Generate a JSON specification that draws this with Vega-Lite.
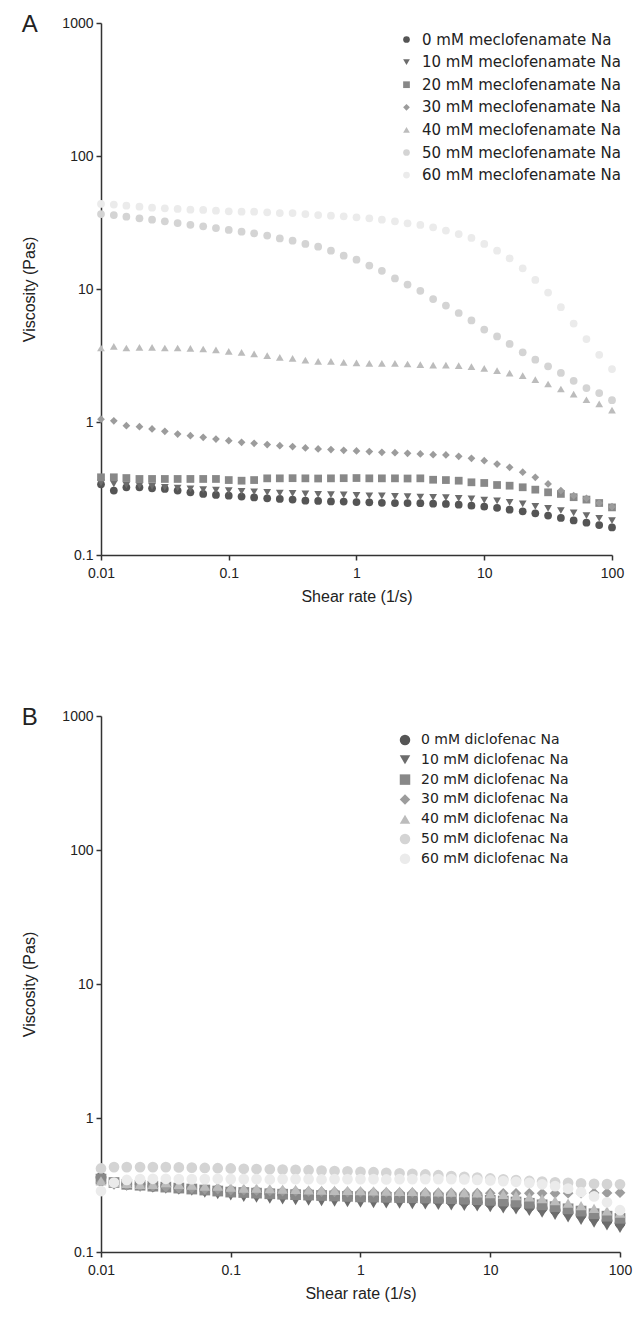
{
"$schema":"https://vega.github.io/schema/vega-lite/v6.json",
"background":"white",
"padding":{"left":21,"top":13,"right":5,"bottom":5},
"config":{"font":"Liberation Sans","view":{"stroke":null},
"axis":{"domainColor":"#333","domainWidth":1.5,"tickColor":"#333","tickWidth":1.5,"tickSize":5,"labelFontSize":14,"labelColor":"#222","titleFontSize":16,"titleFontWeight":"normal","titleColor":"#222","grid":false,"labelFlush":false,"labelFont":"Liberation Sans","titleFont":"Liberation Sans"},
"axisY":{"titlePadding":24,"labelPadding":3},
"axisX":{"titlePadding":8,"labelPadding":6},
"legend":{"labelLimit":0,"labelFont":"DejaVu Sans","labelFontSize":15,"labelColor":"#222","padding":0,"title":null}},
"spacing":102,
"resolve":{"scale":{"color":"independent","shape":"independent"},"legend":{"color":"independent","shape":"independent"}},
"datasets":{
"A":[
{"c":0,"x":0.01,"y":0.34},{"c":0,"x":0.0126,"y":0.305},{"c":0,"x":0.0158,"y":0.323},{"c":0,"x":0.02,"y":0.323},{"c":0,"x":0.0251,"y":0.317},{"c":0,"x":0.0316,"y":0.314},{"c":0,"x":0.0398,"y":0.305},{"c":0,"x":0.0501,"y":0.296},{"c":0,"x":0.0631,"y":0.288},{"c":0,"x":0.0794,"y":0.283},{"c":0,"x":0.1,"y":0.279},{"c":0,"x":0.126,"y":0.275},{"c":0,"x":0.158,"y":0.271},{"c":0,"x":0.2,"y":0.267},{"c":0,"x":0.251,"y":0.264},{"c":0,"x":0.316,"y":0.261},{"c":0,"x":0.398,"y":0.256},{"c":0,"x":0.501,"y":0.255},{"c":0,"x":0.631,"y":0.253},{"c":0,"x":0.794,"y":0.252},{"c":0,"x":1,"y":0.25},{"c":0,"x":1.26,"y":0.249},{"c":0,"x":1.58,"y":0.247},{"c":0,"x":2,"y":0.246},{"c":0,"x":2.51,"y":0.246},{"c":0,"x":3.16,"y":0.245},{"c":0,"x":3.98,"y":0.243},{"c":0,"x":5.01,"y":0.242},{"c":0,"x":6.31,"y":0.239},{"c":0,"x":7.94,"y":0.235},{"c":0,"x":10,"y":0.231},{"c":0,"x":12.6,"y":0.226},{"c":0,"x":15.8,"y":0.219},{"c":0,"x":20,"y":0.213},{"c":0,"x":25.1,"y":0.206},{"c":0,"x":31.6,"y":0.198},{"c":0,"x":39.8,"y":0.19},{"c":0,"x":50.1,"y":0.182},{"c":0,"x":63.1,"y":0.175},{"c":0,"x":79.4,"y":0.168},{"c":0,"x":100,"y":0.161},
{"c":10,"x":0.01,"y":0.348},{"c":10,"x":0.0126,"y":0.342},{"c":10,"x":0.0158,"y":0.336},{"c":10,"x":0.02,"y":0.332},{"c":10,"x":0.0251,"y":0.328},{"c":10,"x":0.0316,"y":0.323},{"c":10,"x":0.0398,"y":0.319},{"c":10,"x":0.0501,"y":0.314},{"c":10,"x":0.0631,"y":0.31},{"c":10,"x":0.0794,"y":0.308},{"c":10,"x":0.1,"y":0.305},{"c":10,"x":0.126,"y":0.301},{"c":10,"x":0.158,"y":0.299},{"c":10,"x":0.2,"y":0.296},{"c":10,"x":0.251,"y":0.292},{"c":10,"x":0.316,"y":0.291},{"c":10,"x":0.398,"y":0.288},{"c":10,"x":0.501,"y":0.286},{"c":10,"x":0.631,"y":0.284},{"c":10,"x":0.794,"y":0.283},{"c":10,"x":1,"y":0.281},{"c":10,"x":1.26,"y":0.279},{"c":10,"x":1.58,"y":0.278},{"c":10,"x":2,"y":0.276},{"c":10,"x":2.51,"y":0.275},{"c":10,"x":3.16,"y":0.273},{"c":10,"x":3.98,"y":0.271},{"c":10,"x":5.01,"y":0.27},{"c":10,"x":6.31,"y":0.267},{"c":10,"x":7.94,"y":0.264},{"c":10,"x":10,"y":0.259},{"c":10,"x":12.6,"y":0.255},{"c":10,"x":15.8,"y":0.249},{"c":10,"x":20,"y":0.242},{"c":10,"x":25.1,"y":0.232},{"c":10,"x":31.6,"y":0.224},{"c":10,"x":39.8,"y":0.216},{"c":10,"x":50.1,"y":0.207},{"c":10,"x":63.1,"y":0.198},{"c":10,"x":79.4,"y":0.189},{"c":10,"x":100,"y":0.181},
{"c":20,"x":0.01,"y":0.384},{"c":20,"x":0.0126,"y":0.384},{"c":20,"x":0.0158,"y":0.379},{"c":20,"x":0.02,"y":0.373},{"c":20,"x":0.0251,"y":0.373},{"c":20,"x":0.0316,"y":0.373},{"c":20,"x":0.0398,"y":0.373},{"c":20,"x":0.0501,"y":0.373},{"c":20,"x":0.0631,"y":0.373},{"c":20,"x":0.0794,"y":0.373},{"c":20,"x":0.1,"y":0.366},{"c":20,"x":0.126,"y":0.362},{"c":20,"x":0.158,"y":0.366},{"c":20,"x":0.2,"y":0.377},{"c":20,"x":0.251,"y":0.377},{"c":20,"x":0.316,"y":0.378},{"c":20,"x":0.398,"y":0.377},{"c":20,"x":0.501,"y":0.376},{"c":20,"x":0.631,"y":0.377},{"c":20,"x":0.794,"y":0.378},{"c":20,"x":1,"y":0.379},{"c":20,"x":1.26,"y":0.377},{"c":20,"x":1.58,"y":0.377},{"c":20,"x":2,"y":0.377},{"c":20,"x":2.51,"y":0.376},{"c":20,"x":3.16,"y":0.377},{"c":20,"x":3.98,"y":0.368},{"c":20,"x":5.01,"y":0.366},{"c":20,"x":6.31,"y":0.362},{"c":20,"x":7.94,"y":0.352},{"c":20,"x":10,"y":0.348},{"c":20,"x":12.6,"y":0.336},{"c":20,"x":15.8,"y":0.332},{"c":20,"x":20,"y":0.323},{"c":20,"x":25.1,"y":0.31},{"c":20,"x":31.6,"y":0.296},{"c":20,"x":39.8,"y":0.288},{"c":20,"x":50.1,"y":0.272},{"c":20,"x":63.1,"y":0.261},{"c":20,"x":79.4,"y":0.246},{"c":20,"x":100,"y":0.228},
{"c":30,"x":0.01,"y":1.05},{"c":30,"x":0.0126,"y":1.02},{"c":30,"x":0.0158,"y":0.938},{"c":30,"x":0.02,"y":0.922},{"c":30,"x":0.0251,"y":0.886},{"c":30,"x":0.0316,"y":0.851},{"c":30,"x":0.0398,"y":0.812},{"c":30,"x":0.0501,"y":0.789},{"c":30,"x":0.0631,"y":0.767},{"c":30,"x":0.0794,"y":0.745},{"c":30,"x":0.1,"y":0.724},{"c":30,"x":0.126,"y":0.703},{"c":30,"x":0.158,"y":0.691},{"c":30,"x":0.2,"y":0.676},{"c":30,"x":0.251,"y":0.664},{"c":30,"x":0.316,"y":0.653},{"c":30,"x":0.398,"y":0.638},{"c":30,"x":0.501,"y":0.627},{"c":30,"x":0.631,"y":0.62},{"c":30,"x":0.794,"y":0.613},{"c":30,"x":1,"y":0.606},{"c":30,"x":1.26,"y":0.599},{"c":30,"x":1.58,"y":0.592},{"c":30,"x":2,"y":0.588},{"c":30,"x":2.51,"y":0.581},{"c":30,"x":3.16,"y":0.575},{"c":30,"x":3.98,"y":0.568},{"c":30,"x":5.01,"y":0.565},{"c":30,"x":6.31,"y":0.552},{"c":30,"x":7.94,"y":0.533},{"c":30,"x":10,"y":0.512},{"c":30,"x":12.6,"y":0.483},{"c":30,"x":15.8,"y":0.456},{"c":30,"x":20,"y":0.419},{"c":30,"x":25.1,"y":0.384},{"c":30,"x":31.6,"y":0.342},{"c":30,"x":39.8,"y":0.305},{"c":30,"x":50.1,"y":0.279},{"c":30,"x":63.1,"y":0.267},{"c":30,"x":79.4,"y":0.246},{"c":30,"x":100,"y":0.231},
{"c":40,"x":0.01,"y":3.6},{"c":40,"x":0.0126,"y":3.71},{"c":40,"x":0.0158,"y":3.6},{"c":40,"x":0.02,"y":3.64},{"c":40,"x":0.0251,"y":3.64},{"c":40,"x":0.0316,"y":3.6},{"c":40,"x":0.0398,"y":3.6},{"c":40,"x":0.0501,"y":3.58},{"c":40,"x":0.0631,"y":3.54},{"c":40,"x":0.0794,"y":3.48},{"c":40,"x":0.1,"y":3.4},{"c":40,"x":0.126,"y":3.34},{"c":40,"x":0.158,"y":3.25},{"c":40,"x":0.2,"y":3.15},{"c":40,"x":0.251,"y":3.06},{"c":40,"x":0.316,"y":3.01},{"c":40,"x":0.398,"y":2.92},{"c":40,"x":0.501,"y":2.86},{"c":40,"x":0.631,"y":2.86},{"c":40,"x":0.794,"y":2.81},{"c":40,"x":1,"y":2.78},{"c":40,"x":1.26,"y":2.76},{"c":40,"x":1.58,"y":2.76},{"c":40,"x":2,"y":2.76},{"c":40,"x":2.51,"y":2.73},{"c":40,"x":3.16,"y":2.7},{"c":40,"x":3.98,"y":2.68},{"c":40,"x":5.01,"y":2.68},{"c":40,"x":6.31,"y":2.65},{"c":40,"x":7.94,"y":2.61},{"c":40,"x":10,"y":2.53},{"c":40,"x":12.6,"y":2.43},{"c":40,"x":15.8,"y":2.33},{"c":40,"x":20,"y":2.23},{"c":40,"x":25.1,"y":2.08},{"c":40,"x":31.6,"y":1.93},{"c":40,"x":39.8,"y":1.77},{"c":40,"x":50.1,"y":1.62},{"c":40,"x":63.1,"y":1.47},{"c":40,"x":79.4,"y":1.37},{"c":40,"x":100,"y":1.23},
{"c":50,"x":0.01,"y":36.6},{"c":50,"x":0.0126,"y":36},{"c":50,"x":0.0158,"y":35},{"c":50,"x":0.02,"y":34},{"c":50,"x":0.0251,"y":33.2},{"c":50,"x":0.0316,"y":32.3},{"c":50,"x":0.0398,"y":31.3},{"c":50,"x":0.0501,"y":30.4},{"c":50,"x":0.0631,"y":29.6},{"c":50,"x":0.0794,"y":28.7},{"c":50,"x":0.1,"y":27.8},{"c":50,"x":0.126,"y":27},{"c":50,"x":0.158,"y":26.2},{"c":50,"x":0.2,"y":25.2},{"c":50,"x":0.251,"y":24},{"c":50,"x":0.316,"y":23.1},{"c":50,"x":0.398,"y":21.8},{"c":50,"x":0.501,"y":20.8},{"c":50,"x":0.631,"y":19.4},{"c":50,"x":0.794,"y":17.8},{"c":50,"x":1,"y":16.6},{"c":50,"x":1.26,"y":15},{"c":50,"x":1.58,"y":13.7},{"c":50,"x":2,"y":12},{"c":50,"x":2.51,"y":10.8},{"c":50,"x":3.16,"y":9.7},{"c":50,"x":3.98,"y":8.4},{"c":50,"x":5.01,"y":7.5},{"c":50,"x":6.31,"y":6.6},{"c":50,"x":7.94,"y":5.8},{"c":50,"x":10,"y":4.95},{"c":50,"x":12.6,"y":4.4},{"c":50,"x":15.8,"y":3.86},{"c":50,"x":20,"y":3.34},{"c":50,"x":25.1,"y":2.94},{"c":50,"x":31.6,"y":2.62},{"c":50,"x":39.8,"y":2.34},{"c":50,"x":50.1,"y":2.04},{"c":50,"x":63.1,"y":1.8},{"c":50,"x":79.4,"y":1.65},{"c":50,"x":100,"y":1.46},
{"c":60,"x":0.01,"y":43.6},{"c":60,"x":0.0126,"y":43.1},{"c":60,"x":0.0158,"y":42.3},{"c":60,"x":0.02,"y":41.6},{"c":60,"x":0.0251,"y":40.9},{"c":60,"x":0.0316,"y":40.4},{"c":60,"x":0.0398,"y":40},{"c":60,"x":0.0501,"y":39.5},{"c":60,"x":0.0631,"y":39.3},{"c":60,"x":0.0794,"y":38.8},{"c":60,"x":0.1,"y":38.4},{"c":60,"x":0.126,"y":38.1},{"c":60,"x":0.158,"y":38.1},{"c":60,"x":0.2,"y":37.7},{"c":60,"x":0.251,"y":37.2},{"c":60,"x":0.316,"y":37.2},{"c":60,"x":0.398,"y":36.6},{"c":60,"x":0.501,"y":36},{"c":60,"x":0.631,"y":35.6},{"c":60,"x":0.794,"y":35.2},{"c":60,"x":1,"y":34.6},{"c":60,"x":1.26,"y":34},{"c":60,"x":1.58,"y":33.2},{"c":60,"x":2,"y":32.3},{"c":60,"x":2.51,"y":31.2},{"c":60,"x":3.16,"y":30.3},{"c":60,"x":3.98,"y":29.1},{"c":60,"x":5.01,"y":27.5},{"c":60,"x":6.31,"y":25.9},{"c":60,"x":7.94,"y":24.2},{"c":60,"x":10,"y":21.8},{"c":60,"x":12.6,"y":19.4},{"c":60,"x":15.8,"y":17},{"c":60,"x":20,"y":14.3},{"c":60,"x":25.1,"y":11.7},{"c":60,"x":31.6,"y":9.4},{"c":60,"x":39.8,"y":7.3},{"c":60,"x":50.1,"y":5.5},{"c":60,"x":63.1,"y":4.2},{"c":60,"x":79.4,"y":3.2},{"c":60,"x":100,"y":2.5}
],
"B":[
{"c":0,"x":0.01,"y":0.36},{"c":0,"x":0.0126,"y":0.33},{"c":0,"x":0.0158,"y":0.32},{"c":0,"x":0.02,"y":0.32},{"c":0,"x":0.0251,"y":0.31},{"c":0,"x":0.0316,"y":0.31},{"c":0,"x":0.0398,"y":0.3},{"c":0,"x":0.0501,"y":0.3},{"c":0,"x":0.0631,"y":0.29},{"c":0,"x":0.0794,"y":0.29},{"c":0,"x":0.1,"y":0.285},{"c":0,"x":0.126,"y":0.28},{"c":0,"x":0.158,"y":0.28},{"c":0,"x":0.2,"y":0.275},{"c":0,"x":0.251,"y":0.27},{"c":0,"x":0.316,"y":0.27},{"c":0,"x":0.398,"y":0.265},{"c":0,"x":0.501,"y":0.265},{"c":0,"x":0.631,"y":0.26},{"c":0,"x":0.794,"y":0.26},{"c":0,"x":1,"y":0.255},{"c":0,"x":1.26,"y":0.255},{"c":0,"x":1.58,"y":0.25},{"c":0,"x":2,"y":0.25},{"c":0,"x":2.51,"y":0.248},{"c":0,"x":3.16,"y":0.245},{"c":0,"x":3.98,"y":0.243},{"c":0,"x":5.01,"y":0.24},{"c":0,"x":6.31,"y":0.238},{"c":0,"x":7.94,"y":0.235},{"c":0,"x":10,"y":0.232},{"c":0,"x":12.6,"y":0.228},{"c":0,"x":15.8,"y":0.224},{"c":0,"x":20,"y":0.219},{"c":0,"x":25.1,"y":0.213},{"c":0,"x":31.6,"y":0.206},{"c":0,"x":39.8,"y":0.198},{"c":0,"x":50.1,"y":0.19},{"c":0,"x":63.1,"y":0.181},{"c":0,"x":79.4,"y":0.172},{"c":0,"x":100,"y":0.164},
{"c":10,"x":0.01,"y":0.34},{"c":10,"x":0.0126,"y":0.32},{"c":10,"x":0.0158,"y":0.31},{"c":10,"x":0.02,"y":0.305},{"c":10,"x":0.0251,"y":0.3},{"c":10,"x":0.0316,"y":0.295},{"c":10,"x":0.0398,"y":0.29},{"c":10,"x":0.0501,"y":0.285},{"c":10,"x":0.0631,"y":0.275},{"c":10,"x":0.0794,"y":0.268},{"c":10,"x":0.1,"y":0.262},{"c":10,"x":0.126,"y":0.256},{"c":10,"x":0.158,"y":0.252},{"c":10,"x":0.2,"y":0.248},{"c":10,"x":0.251,"y":0.245},{"c":10,"x":0.316,"y":0.242},{"c":10,"x":0.398,"y":0.24},{"c":10,"x":0.501,"y":0.238},{"c":10,"x":0.631,"y":0.236},{"c":10,"x":0.794,"y":0.234},{"c":10,"x":1,"y":0.232},{"c":10,"x":1.26,"y":0.23},{"c":10,"x":1.58,"y":0.229},{"c":10,"x":2,"y":0.228},{"c":10,"x":2.51,"y":0.226},{"c":10,"x":3.16,"y":0.225},{"c":10,"x":3.98,"y":0.223},{"c":10,"x":5.01,"y":0.221},{"c":10,"x":6.31,"y":0.219},{"c":10,"x":7.94,"y":0.217},{"c":10,"x":10,"y":0.214},{"c":10,"x":12.6,"y":0.21},{"c":10,"x":15.8,"y":0.206},{"c":10,"x":20,"y":0.201},{"c":10,"x":25.1,"y":0.195},{"c":10,"x":31.6,"y":0.188},{"c":10,"x":39.8,"y":0.18},{"c":10,"x":50.1,"y":0.172},{"c":10,"x":63.1,"y":0.164},{"c":10,"x":79.4,"y":0.157},{"c":10,"x":100,"y":0.15},
{"c":20,"x":0.01,"y":0.35},{"c":20,"x":0.0126,"y":0.33},{"c":20,"x":0.0158,"y":0.32},{"c":20,"x":0.02,"y":0.315},{"c":20,"x":0.0251,"y":0.31},{"c":20,"x":0.0316,"y":0.305},{"c":20,"x":0.0398,"y":0.3},{"c":20,"x":0.0501,"y":0.295},{"c":20,"x":0.0631,"y":0.29},{"c":20,"x":0.0794,"y":0.285},{"c":20,"x":0.1,"y":0.28},{"c":20,"x":0.126,"y":0.278},{"c":20,"x":0.158,"y":0.275},{"c":20,"x":0.2,"y":0.272},{"c":20,"x":0.251,"y":0.27},{"c":20,"x":0.316,"y":0.268},{"c":20,"x":0.398,"y":0.266},{"c":20,"x":0.501,"y":0.264},{"c":20,"x":0.631,"y":0.262},{"c":20,"x":0.794,"y":0.26},{"c":20,"x":1,"y":0.258},{"c":20,"x":1.26,"y":0.257},{"c":20,"x":1.58,"y":0.256},{"c":20,"x":2,"y":0.255},{"c":20,"x":2.51,"y":0.254},{"c":20,"x":3.16,"y":0.253},{"c":20,"x":3.98,"y":0.252},{"c":20,"x":5.01,"y":0.25},{"c":20,"x":6.31,"y":0.248},{"c":20,"x":7.94,"y":0.246},{"c":20,"x":10,"y":0.243},{"c":20,"x":12.6,"y":0.24},{"c":20,"x":15.8,"y":0.236},{"c":20,"x":20,"y":0.231},{"c":20,"x":25.1,"y":0.225},{"c":20,"x":31.6,"y":0.218},{"c":20,"x":39.8,"y":0.21},{"c":20,"x":50.1,"y":0.202},{"c":20,"x":63.1,"y":0.193},{"c":20,"x":79.4,"y":0.185},{"c":20,"x":100,"y":0.178},
{"c":30,"x":0.01,"y":0.33},{"c":30,"x":0.0126,"y":0.32},{"c":30,"x":0.0158,"y":0.315},{"c":30,"x":0.02,"y":0.31},{"c":30,"x":0.0251,"y":0.31},{"c":30,"x":0.0316,"y":0.305},{"c":30,"x":0.0398,"y":0.3},{"c":30,"x":0.0501,"y":0.3},{"c":30,"x":0.0631,"y":0.295},{"c":30,"x":0.0794,"y":0.295},{"c":30,"x":0.1,"y":0.29},{"c":30,"x":0.126,"y":0.29},{"c":30,"x":0.158,"y":0.288},{"c":30,"x":0.2,"y":0.286},{"c":30,"x":0.251,"y":0.285},{"c":30,"x":0.316,"y":0.284},{"c":30,"x":0.398,"y":0.283},{"c":30,"x":0.501,"y":0.282},{"c":30,"x":0.631,"y":0.281},{"c":30,"x":0.794,"y":0.28},{"c":30,"x":1,"y":0.28},{"c":30,"x":1.26,"y":0.279},{"c":30,"x":1.58,"y":0.278},{"c":30,"x":2,"y":0.278},{"c":30,"x":2.51,"y":0.277},{"c":30,"x":3.16,"y":0.277},{"c":30,"x":3.98,"y":0.276},{"c":30,"x":5.01,"y":0.276},{"c":30,"x":6.31,"y":0.275},{"c":30,"x":7.94,"y":0.275},{"c":30,"x":10,"y":0.275},{"c":30,"x":12.6,"y":0.274},{"c":30,"x":15.8,"y":0.274},{"c":30,"x":20,"y":0.274},{"c":30,"x":25.1,"y":0.274},{"c":30,"x":31.6,"y":0.274},{"c":30,"x":39.8,"y":0.275},{"c":30,"x":50.1,"y":0.275},{"c":30,"x":63.1,"y":0.276},{"c":30,"x":79.4,"y":0.276},{"c":30,"x":100,"y":0.277},
{"c":40,"x":0.01,"y":0.34},{"c":40,"x":0.0126,"y":0.33},{"c":40,"x":0.0158,"y":0.325},{"c":40,"x":0.02,"y":0.32},{"c":40,"x":0.0251,"y":0.32},{"c":40,"x":0.0316,"y":0.33},{"c":40,"x":0.0398,"y":0.32},{"c":40,"x":0.0501,"y":0.315},{"c":40,"x":0.0631,"y":0.31},{"c":40,"x":0.0794,"y":0.31},{"c":40,"x":0.1,"y":0.305},{"c":40,"x":0.126,"y":0.3},{"c":40,"x":0.158,"y":0.3},{"c":40,"x":0.2,"y":0.297},{"c":40,"x":0.251,"y":0.295},{"c":40,"x":0.316,"y":0.293},{"c":40,"x":0.398,"y":0.291},{"c":40,"x":0.501,"y":0.29},{"c":40,"x":0.631,"y":0.289},{"c":40,"x":0.794,"y":0.288},{"c":40,"x":1,"y":0.287},{"c":40,"x":1.26,"y":0.286},{"c":40,"x":1.58,"y":0.285},{"c":40,"x":2,"y":0.284},{"c":40,"x":2.51,"y":0.283},{"c":40,"x":3.16,"y":0.282},{"c":40,"x":3.98,"y":0.281},{"c":40,"x":5.01,"y":0.28},{"c":40,"x":6.31,"y":0.278},{"c":40,"x":7.94,"y":0.276},{"c":40,"x":10,"y":0.273},{"c":40,"x":12.6,"y":0.269},{"c":40,"x":15.8,"y":0.264},{"c":40,"x":20,"y":0.258},{"c":40,"x":25.1,"y":0.25},{"c":40,"x":31.6,"y":0.242},{"c":40,"x":39.8,"y":0.232},{"c":40,"x":50.1,"y":0.222},{"c":40,"x":63.1,"y":0.212},{"c":40,"x":79.4,"y":0.203},{"c":40,"x":100,"y":0.195},
{"c":50,"x":0.01,"y":0.42},{"c":50,"x":0.0126,"y":0.43},{"c":50,"x":0.0158,"y":0.43},{"c":50,"x":0.02,"y":0.43},{"c":50,"x":0.0251,"y":0.43},{"c":50,"x":0.0316,"y":0.43},{"c":50,"x":0.0398,"y":0.428},{"c":50,"x":0.0501,"y":0.426},{"c":50,"x":0.0631,"y":0.424},{"c":50,"x":0.0794,"y":0.422},{"c":50,"x":0.1,"y":0.42},{"c":50,"x":0.126,"y":0.418},{"c":50,"x":0.158,"y":0.416},{"c":50,"x":0.2,"y":0.414},{"c":50,"x":0.251,"y":0.412},{"c":50,"x":0.316,"y":0.41},{"c":50,"x":0.398,"y":0.408},{"c":50,"x":0.501,"y":0.405},{"c":50,"x":0.631,"y":0.402},{"c":50,"x":0.794,"y":0.4},{"c":50,"x":1,"y":0.397},{"c":50,"x":1.26,"y":0.394},{"c":50,"x":1.58,"y":0.39},{"c":50,"x":2,"y":0.387},{"c":50,"x":2.51,"y":0.383},{"c":50,"x":3.16,"y":0.379},{"c":50,"x":3.98,"y":0.374},{"c":50,"x":5.01,"y":0.369},{"c":50,"x":6.31,"y":0.364},{"c":50,"x":7.94,"y":0.359},{"c":50,"x":10,"y":0.354},{"c":50,"x":12.6,"y":0.349},{"c":50,"x":15.8,"y":0.344},{"c":50,"x":20,"y":0.339},{"c":50,"x":25.1,"y":0.335},{"c":50,"x":31.6,"y":0.331},{"c":50,"x":39.8,"y":0.328},{"c":50,"x":50.1,"y":0.325},{"c":50,"x":63.1,"y":0.323},{"c":50,"x":79.4,"y":0.321},{"c":50,"x":100,"y":0.32},
{"c":60,"x":0.01,"y":0.285},{"c":60,"x":0.0126,"y":0.33},{"c":60,"x":0.0158,"y":0.345},{"c":60,"x":0.02,"y":0.35},{"c":60,"x":0.0251,"y":0.352},{"c":60,"x":0.0316,"y":0.352},{"c":60,"x":0.0398,"y":0.35},{"c":60,"x":0.0501,"y":0.35},{"c":60,"x":0.0631,"y":0.35},{"c":60,"x":0.0794,"y":0.352},{"c":60,"x":0.1,"y":0.35},{"c":60,"x":0.126,"y":0.35},{"c":60,"x":0.158,"y":0.35},{"c":60,"x":0.2,"y":0.348},{"c":60,"x":0.251,"y":0.35},{"c":60,"x":0.316,"y":0.35},{"c":60,"x":0.398,"y":0.35},{"c":60,"x":0.501,"y":0.348},{"c":60,"x":0.631,"y":0.35},{"c":60,"x":0.794,"y":0.35},{"c":60,"x":1,"y":0.35},{"c":60,"x":1.26,"y":0.35},{"c":60,"x":1.58,"y":0.348},{"c":60,"x":2,"y":0.35},{"c":60,"x":2.51,"y":0.35},{"c":60,"x":3.16,"y":0.35},{"c":60,"x":3.98,"y":0.35},{"c":60,"x":5.01,"y":0.35},{"c":60,"x":6.31,"y":0.348},{"c":60,"x":7.94,"y":0.345},{"c":60,"x":10,"y":0.342},{"c":60,"x":12.6,"y":0.338},{"c":60,"x":15.8,"y":0.334},{"c":60,"x":20,"y":0.328},{"c":60,"x":25.1,"y":0.32},{"c":60,"x":31.6,"y":0.31},{"c":60,"x":39.8,"y":0.297},{"c":60,"x":50.1,"y":0.28},{"c":60,"x":63.1,"y":0.26},{"c":60,"x":79.4,"y":0.235},{"c":60,"x":100,"y":0.205}
]},
"vconcat":[
{"title":{"text":"A","anchor":"start","frame":"bounds","fontSize":24,"fontWeight":"normal","font":"Liberation Sans","color":"#222","offset":0,"dy":21},
"width":511,"height":532,
"data":{"name":"A"},
"mark":{"type":"point","filled":true,"opacity":1,"size":60},
"encoding":{
"x":{"field":"x","type":"quantitative","scale":{"type":"log","domain":[0.01,100],"nice":false},"axis":{"values":[0.01,0.1,1,10,100],"format":"~g","title":"Shear rate (1/s)"}},
"y":{"field":"y","type":"quantitative","scale":{"type":"log","domain":[0.1,1000],"nice":false},"axis":{"values":[0.1,1,10,100,1000],"format":"~g","title":"Viscosity (Pas)"}},
"color":{"field":"c","type":"nominal","scale":{"domain":[0,10,20,30,40,50,60],"range":["#555555","#6c6c6c","#888888","#9c9c9c","#bcbcbc","#d4d4d4","#ebebeb"]},
"legend":{"orient":"none","legendX":298,"legendY":9,"symbolSize":45,"rowPadding":6.6,"labelOffset":8,"labelExpr":"datum.value == 50 ? '50 mM  meclofenamate Na' : datum.label + ' mM meclofenamate Na'"}},
"shape":{"field":"c","type":"nominal","scale":{"domain":[0,10,20,30,40,50,60],"range":["circle","triangle-down","square","diamond","triangle-up","circle","circle"]},
"legend":{"orient":"none","legendX":298,"legendY":9,"symbolSize":45,"rowPadding":6.6,"labelOffset":8,"labelExpr":"datum.value == 50 ? '50 mM  meclofenamate Na' : datum.label + ' mM meclofenamate Na'"}}
}},
{"title":{"text":"B","anchor":"start","frame":"bounds","fontSize":24,"fontWeight":"normal","font":"Liberation Sans","color":"#222","offset":0,"dy":21},
"width":519,"height":536,
"data":{"name":"B"},
"mark":{"type":"point","filled":true,"opacity":1,"size":115},
"encoding":{
"x":{"field":"x","type":"quantitative","scale":{"type":"log","domain":[0.01,100],"nice":false},"axis":{"values":[0.01,0.1,1,10,100],"format":"~g","title":"Shear rate (1/s)"}},
"y":{"field":"y","type":"quantitative","scale":{"type":"log","domain":[0.1,1000],"nice":false},"axis":{"values":[0.1,1,10,100,1000],"format":"~g","title":"Viscosity (Pas)"}},
"color":{"field":"c","type":"nominal","scale":{"domain":[0,10,20,30,40,50,60],"range":["#555555","#6c6c6c","#888888","#9c9c9c","#bcbcbc","#d4d4d4","#ebebeb"]},
"legend":{"orient":"none","legendX":297,"legendY":17,"symbolSize":110,"rowPadding":5.8,"labelOffset":9,"labelFontSize":14,"labelExpr":"datum.value == 50 ? '50 mM  diclofenac Na' : datum.label + ' mM diclofenac Na'"}},
"shape":{"field":"c","type":"nominal","scale":{"domain":[0,10,20,30,40,50,60],"range":["circle","triangle-down","square","diamond","triangle-up","circle","circle"]},
"legend":{"orient":"none","legendX":297,"legendY":17,"symbolSize":110,"rowPadding":5.8,"labelOffset":9,"labelFontSize":14,"labelExpr":"datum.value == 50 ? '50 mM  diclofenac Na' : datum.label + ' mM diclofenac Na'"}}
}}
]
}
